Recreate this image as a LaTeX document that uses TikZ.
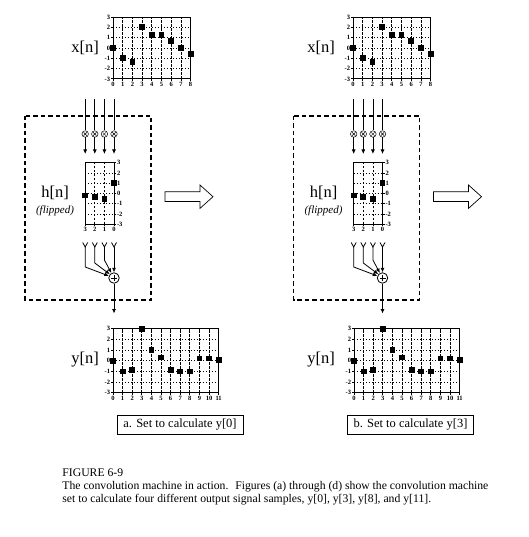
\documentclass[tikz,border=0pt]{standalone}
\usepackage{fontspec}
\setmainfont{Liberation Serif}
\usetikzlibrary{arrows.meta}

\begin{document}
\begin{tikzpicture}[x=1pt,y=-1pt,line width=0.8pt,
    gridv/.style={line width=0.7pt,dash pattern=on 2.4pt off 1.6pt},
    gridh/.style={line width=0.7pt,dash pattern=on 1pt off 2pt},
    ticklbl/.style={font=\fontsize{6.5}{6.5}\selectfont\bfseries,inner sep=0.6pt},
    siglbl/.style={font=\fontsize{16.5}{18}\selectfont,inner sep=0pt},
    feed/.style={-{Latex[length=4.5pt,width=4pt]}},
    mult/.style={circle,draw,line width=0.5pt,minimum size=6.5pt,inner sep=0pt,
      path picture={\draw[line width=0.45pt]
        ([shift={(-1.7pt,-1.7pt)}]path picture bounding box.center) -- ([shift={(1.7pt,1.7pt)}]path picture bounding box.center)
        ([shift={(-1.7pt,1.7pt)}]path picture bounding box.center) -- ([shift={(1.7pt,-1.7pt)}]path picture bounding box.center);}},
    adder/.style={circle,draw,line width=0.8pt,minimum size=10.5pt,inner sep=0pt,
      path picture={\draw[line width=0.6pt]
        ([xshift=-3pt]path picture bounding box.center) -- ([xshift=3pt]path picture bounding box.center)
        ([yshift=-3pt]path picture bounding box.center) -- ([yshift=3pt]path picture bounding box.center);}},
    capbox/.style={draw,line width=0.7pt,minimum width=126pt,minimum height=19pt,inner sep=0pt,
      font=\fontsize{12.5}{14}\selectfont}]
  \useasboundingbox (0,0) rectangle (528,537);
  % samples (index/value)
  \def\xsamp{0/0,1/-1,2/-1.35,3/2,4/1.3,5/1.3,6/0.65,7/0,8/-0.55}
  \def\ysamp{0/0,1/-1,2/-0.85,3/2.95,4/1,5/0.3,6/-0.85,7/-1,8/-1,9/0.2,10/0.2,11/0.1}
  \def\hsamp{0/-0.2,1/-0.35,2/-0.55,3/1}
  % grid and frame of one small plot
  \def\sigframe#1{%
    \foreach \k in {0,...,#1} \draw[gridv] (\k,-3) -- (\k,3);
    \foreach \j in {-2,...,2} \draw[gridh] (0,\j) -- (#1,\j);
    \draw (0,-3) rectangle (#1,3);}

  \foreach \p/\A/\xo/\yo/\lx/\bx/\ctxt in
    {a/114/113/113/85/180/{a. Set to calculate y[0]},
     b/382.5/353/354/321/410.5/{b. Set to calculate y[3]}}{
    % input x[n]
    \node[siglbl] (xl\p) at (\lx,47.5) {x[n]};
    \begin{scope}[shift={(\xo,48)},x=9.7pt,y=10.3pt]
      \sigframe{8}
      \foreach \j in {-3,...,3}
        \draw (0,\j) -- +(-2pt,0) node[ticklbl,left] (xv\p\j) {\j};
      \foreach \k in {0,...,8}
        \draw (\k,-3) -- +(0,-2pt) node[ticklbl,below] (xi\p\k) {\k};
      \foreach \n/\v in \xsamp {\fill (\n,\v) +(-2.9pt,-2.9pt) rectangle +(2.9pt,2.9pt);}
    \end{scope}
    % output y[n]
    \node[siglbl] (yl\p) at (\lx,360) {y[n]};
    \begin{scope}[shift={(\yo,360.7)},x=9.6pt,y=10.7pt]
      \sigframe{11}
      \foreach \j in {-3,...,3}
        \draw (0,\j) -- +(-2pt,0) node[ticklbl,left] (yv\p\j) {\j};
      \foreach \k in {0,...,11}
        \draw (\k,-3) -- +(0,-2pt) node[ticklbl,below] (yi\p\k) {\k};
      \foreach \n/\v in \ysamp {\fill (\n,\v) +(-2.9pt,-2.9pt) rectangle +(2.9pt,2.9pt);}
    \end{scope}
    % the machine
    \begin{scope}[shift={(\A,0)}]
      \draw[line width=1.3pt,dash pattern=on 4.5pt off 3pt] (-89,116) rectangle (37,300);
      \node[siglbl] (hl\p) at (-59,193) {h[n]};
      \node[font=\fontsize{11}{12}\selectfont\itshape] (fl\p) at (-59,210.5) {(flipped)};
      \foreach \k in {0,...,3}{
        \coordinate (in\p\k) at ({-9.6*\k},99);
        \node[mult] (m\p\k) at ({-9.6*\k},134) {};
        \coordinate (hi\p\k) at ({-9.6*\k},154);
        \draw (in\p\k) -- (m\p\k);
        \draw[feed] (m\p\k) -- (hi\p\k);
        \coordinate (fk\p\k) at ({-9.6*\k},247);
        \draw (fk\p\k) ++(-2.5,-4.5) -- (fk\p\k) -- ++(2.5,-4.5);
      }
      % h[n], flipped
      \begin{scope}[shift={(-28.8,193.5)},x=9.6pt,y=10.27pt]
        \sigframe{3}
        \foreach \j in {-3,...,3}
          \draw (3,\j) -- +(2pt,0) node[ticklbl,right] (hv\p\j) {\j};
        \foreach \k [evaluate=\k as \m using int(3-\k)] in {0,...,3}
          \draw (\k,-3) -- +(0,-2pt) node[ticklbl,below] (hx\p\k) {\m};
        \foreach \n/\v in \hsamp {\fill (\n,\v) +(-2.9pt,-2.9pt) rectangle +(2.9pt,2.9pt);}
      \end{scope}
      % adder
      \node[adder] (ad\p) at (0,278) {};
      \draw[feed] (fk\p0) -- (ad\p);
      \foreach \k/\dr/\ang in {1/13/118,2/16/138,3/20/158}
        \draw[feed] (fk\p\k) -- ++(0,\dr) -- (ad\p.\ang);
      \coordinate (out\p) at (0,313.5);
      \draw[feed] (ad\p) -- (out\p);
      % big arrow to next panel
      \draw[line width=0.7pt] (51,191.8) -- (86,191.8) -- (86,185) -- (99,196.7)
        -- (86,208.4) -- (86,201.6) -- (51,201.6) -- cycle;
    \end{scope}
    \node[capbox] (cb\p) at (\bx,424.5) {\ctxt};
  }

  % figure caption
  \node[anchor=north west,align=left,inner sep=0pt,font=\fontsize{11.7}{13}\selectfont] (fig) at (62,468)
    {FIGURE 6-9\\The convolution machine in action.~ Figures (a) through (d) show the convolution machine\\
     set to calculate four different output signal samples, y[0], y[3], y[8], and y[11].};
\end{tikzpicture}
\end{document}
